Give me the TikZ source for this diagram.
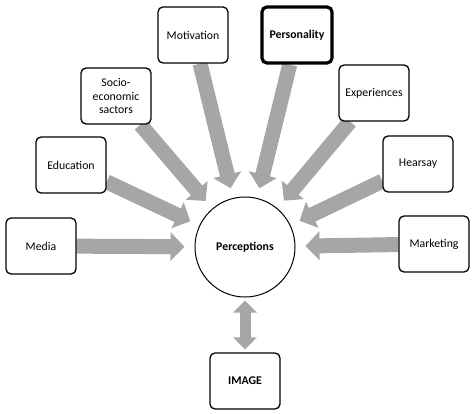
\documentclass[tikz,border=0pt]{standalone}
\usepackage{fontspec}
\setmainfont{Carlito}
\usetikzlibrary{arrows.meta,backgrounds}
\definecolor{arrowgray}{RGB}{166,166,166}
\begin{document}
\begin{tikzpicture}[x=1pt,y=-1pt,
  box/.style={draw=black,line width=1.3pt,rounded corners=5pt,fill=white,
    minimum width=70pt,minimum height=56pt,align=center,inner sep=2pt,
    font=\fontsize{11.8}{13.5}\selectfont},
  boldbox/.style={box,font=\fontsize{11.8}{13.5}\selectfont\bfseries},
  flow/.style={draw=arrowgray,line width=15pt,shorten >=10pt,
    -{Triangle[width=28pt,length=14pt]}},
  both/.style={draw=arrowgray,line width=11pt,shorten >=3pt,shorten <=3pt,
    {Triangle[width=23pt,length=12pt]}-{Triangle[width=23pt,length=12pt]}}]
\useasboundingbox (0,0) rectangle (474,414);
\node[circle,draw=black,line width=1pt,fill=white,minimum size=100pt,inner sep=0pt,
  font=\fontsize{11.8}{13.5}\selectfont\bfseries] (perc) at (245,247) {Perceptions};
\node[box] (mot) at (193,35) {Motivation};
\node[boldbox,line width=3.2pt] (pers) at (297,35) {Personality};
\node[box] (soc) at (116,96) {Socio-\\economic\\sactors};
\node[box] (exp) at (374,93) {Experiences};
\node[box] (edu) at (71,165) {Education};
\node[box] (hear) at (418,164) {Hearsay};
\node[box] (media) at (41,246) {Media};
\node[box] (mark) at (434,244) {Marketing};
\node[boldbox] (img) at (245,381) {IMAGE};
\begin{scope}[on background layer]
\draw[flow] (mot) -- (perc);
\draw[flow] (pers) -- (perc);
\draw[flow] (soc) -- (perc);
\draw[flow] (exp) -- (perc);
\draw[flow] (edu) -- (perc);
\draw[flow] (hear) -- (perc);
\draw[flow] (media) -- (perc);
\draw[flow] (mark) -- (perc);
\draw[both] (perc) -- (img);
\end{scope}
\end{tikzpicture}
\end{document}
